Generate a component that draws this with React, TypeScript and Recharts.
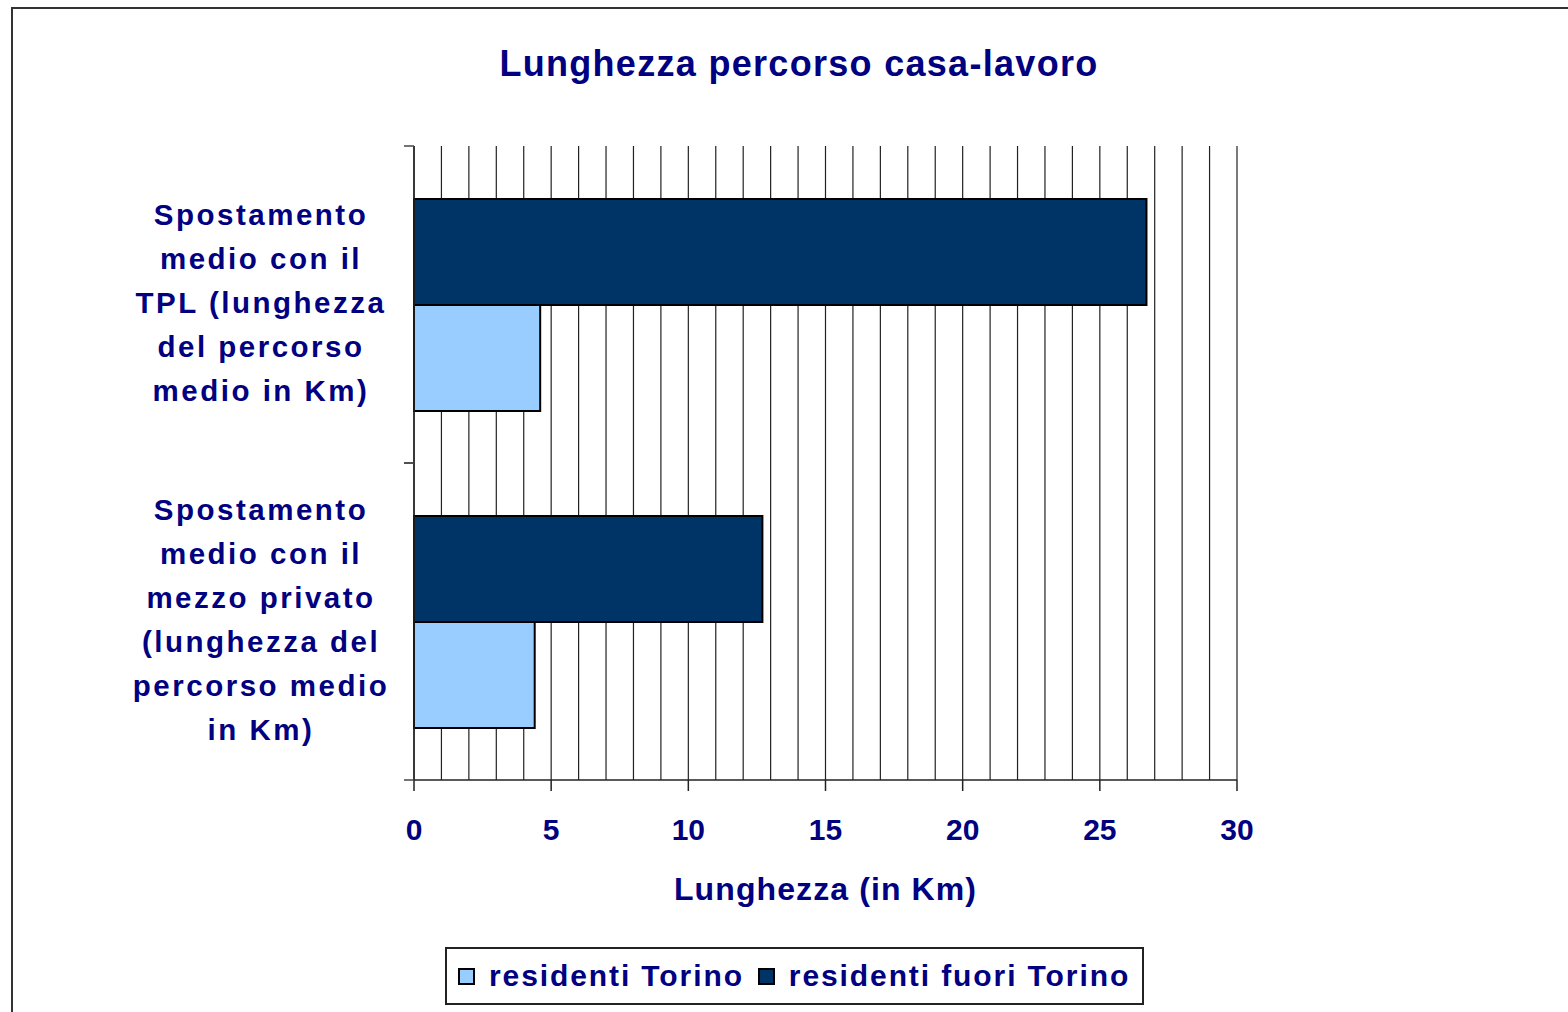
import { BarChart, Bar, XAxis, YAxis, CartesianGrid } from "recharts";

const categories = [
  "Spostamento\nmedio con il\nTPL (lunghezza\ndel percorso\nmedio in Km)",
  "Spostamento\nmedio con il\nmezzo privato\n(lunghezza del\npercorso medio\nin Km)",
];
const residentiTorino = [4.6, 4.4];
const residentiFuoriTorino = [26.7, 12.7];
const seriesNames = ["residenti Torino", "residenti fuori Torino"];
const seriesColors = ["#99CCFF", "#003366"];
const xTicks = [0, 1, 2, 3, 4, 5, 6, 7, 8, 9, 10, 11, 12, 13, 14, 15, 16, 17, 18, 19, 20, 21, 22, 23, 24, 25, 26, 27, 28, 29, 30];
const labeledTicks = [0, 5, 10, 15, 20, 25, 30];

const FONT = '"Liberation Sans", Arial, sans-serif';
const NAVY = "#000080";

const data = categories.map((category, i) => ({
  category,
  torino: residentiTorino[i],
  fuori: residentiFuoriTorino[i],
}));

const XTick = (props: any) => {
  const { x, y, payload } = props;
  if (!labeledTicks.includes(payload.value)) return <g />;
  return (
    <g>
      <line x1={x} y1={y} x2={x} y2={y + 11} stroke="#222" strokeWidth={1.5} />
      <text
        x={x}
        y={y + 60}
        textAnchor="middle"
        fill={NAVY}
        fontSize={30}
        fontWeight="bold"
        fontFamily={FONT}
      >
        {payload.value}
      </text>
    </g>
  );
};

const YTick = (props: any) => {
  const { x, y, payload } = props;
  const lines = String(payload.value).split("\n");
  const half = payload.offset ?? 158.5;
  const first = y - ((lines.length - 1) / 2) * 44 + 8;
  return (
    <g>
      <line x1={x - 10} y1={y - half} x2={x} y2={y - half} stroke="#444" strokeWidth={1.5} />
      <line x1={x - 10} y1={y + half} x2={x} y2={y + half} stroke="#444" strokeWidth={1.5} />
      <text
        x={x - 153}
        textAnchor="middle"
        fill={NAVY}
        fontSize={29.5}
        fontWeight="bold"
        fontFamily={FONT}
        letterSpacing={2.5}
      >
        {lines.map((line, i) => (
          <tspan key={i} x={x - 153} y={first + i * 44}>
            {line}
          </tspan>
        ))}
      </text>
    </g>
  );
};

export default function App() {
  return (
    <div
      style={{
        position: "absolute",
        left: 0,
        top: 0,
        width: 1568,
        height: 1012,
        overflow: "hidden",
        background: "#fff",
        fontFamily: FONT,
      }}
    >
      <div
        style={{
          position: "absolute",
          left: 11,
          top: 7,
          width: 1700,
          height: 1200,
          border: "2px solid #333",
        }}
      />
      <div
        style={{
          position: "absolute",
          left: 0,
          top: 46,
          width: 1598,
          textAlign: "center",
          fontSize: 36,
          lineHeight: "36px",
          fontWeight: "bold",
          letterSpacing: 1.3,
          color: NAVY,
        }}
      >
        Lunghezza percorso casa-lavoro
      </div>
      <div style={{ position: "absolute", left: 0, top: 0 }}>
        <BarChart
          width={1568}
          height={1012}
          data={data}
          layout="vertical"
          barSize={106}
          barGap={0}
          margin={{ top: 146, right: 331, bottom: 172, left: 14 }}
        >
          <CartesianGrid horizontal={false} vertical stroke="#222" strokeWidth={1.2} />
          <XAxis
            type="number"
            domain={[0, 30]}
            ticks={xTicks}
            interval={0}
            height={60}
            tickSize={0}
            tickMargin={0}
            tickLine={false}
            axisLine={{ stroke: "#222", strokeWidth: 1.5 }}
            tick={<XTick />}
            label={{
              value: "Lunghezza (in Km)",
              position: "bottom",
              offset: 37,
              fill: NAVY,
              fontSize: 32,
              fontWeight: "bold",
              fontFamily: FONT,
              letterSpacing: 1.1,
            }}
          />
          <XAxis
            xAxisId="top"
            orientation="top"
            type="number"
            domain={[0, 30]}
            height={0}
            tick={false}
            tickLine={false}
            axisLine={{ stroke: "#666", strokeWidth: 1.5 }}
          />
          <YAxis
            type="category"
            dataKey="category"
            width={400}
            tickSize={0}
            tickMargin={0}
            tickLine={false}
            interval={0}
            axisLine={{ stroke: "#222", strokeWidth: 1.5 }}
            tick={<YTick />}
          />
          <Bar
            dataKey="fuori"
            name={seriesNames[1]}
            fill={seriesColors[1]}
            stroke="#000"
            strokeWidth={2}
            isAnimationActive={false}
          />
          <Bar
            dataKey="torino"
            name={seriesNames[0]}
            fill={seriesColors[0]}
            stroke="#000"
            strokeWidth={2}
            isAnimationActive={false}
          />
        </BarChart>
      </div>
      <div
        style={{
          position: "absolute",
          left: 445,
          top: 947,
          width: 684,
          height: 54,
          border: "2px solid #222",
          display: "flex",
          alignItems: "center",
          paddingLeft: 11,
          boxSizing: "content-box",
          whiteSpace: "nowrap",
        }}
      >
        {seriesNames.map((name, i) => (
          <div
            key={name}
            style={{ display: "flex", alignItems: "center", marginRight: 14, flexShrink: 0 }}
          >
            <div
              style={{
                width: 13,
                height: 13,
                background: seriesColors[i],
                border: "2px solid #000",
                marginRight: 14,
                flexShrink: 0,
              }}
            />
            <span
              style={{
                fontSize: 30,
                fontWeight: "bold",
                color: NAVY,
                letterSpacing: 1.9,
                lineHeight: "34px",
                whiteSpace: "nowrap",
              }}
            >
              {name}
            </span>
          </div>
        ))}
      </div>
    </div>
  );
}
